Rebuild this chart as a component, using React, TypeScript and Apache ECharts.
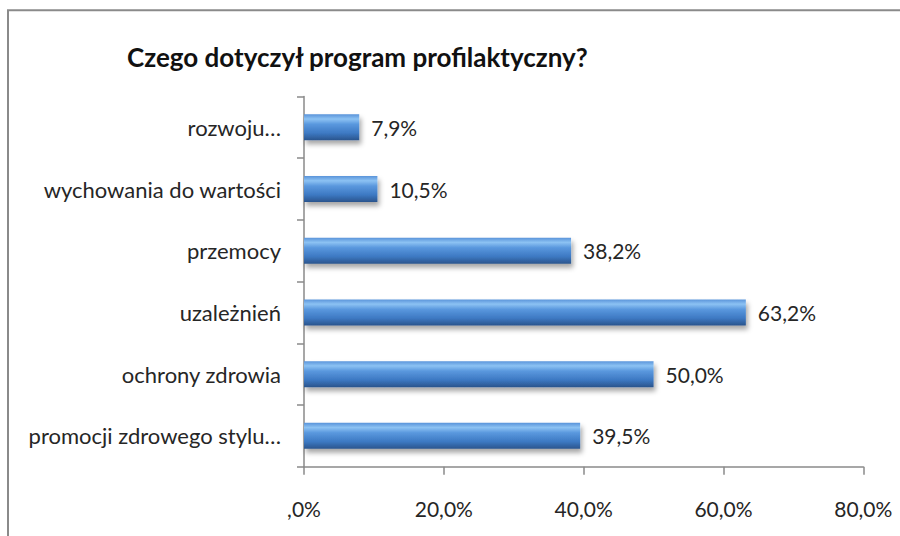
import React, { useEffect, useRef } from "react";
import * as echarts from "echarts";

const title = "Czego dotyczył program profilaktyczny?";
const categories = [
  "rozwoju…",
  "wychowania do wartości",
  "przemocy",
  "uzależnień",
  "ochrony zdrowia",
  "promocji zdrowego stylu…",
];
const values = [7.9, 10.5, 38.2, 63.2, 50.0, 39.5];
const xTicks = [0, 20, 40, 60, 80];

const fmt = (v: number) => (v === 0 ? ",0%" : v.toFixed(1).replace(".", ",") + "%");

export default function App() {
  const ref = useRef<HTMLDivElement>(null);
  useEffect(() => {
    document.body.style.margin = "0";
    const chart = echarts.init(ref.current!, null, { renderer: "svg" });
    const font = "Lato, 'Noto Sans', sans-serif";
    chart.setOption({
      animation: false,
      backgroundColor: "#ffffff",
      textStyle: { fontFamily: font },
      graphic: [
        {
          type: "rect",
          shape: { x: 8, y: 10.3, width: 920, height: 600 },
          style: { fill: "none", stroke: "#8a8a8a", lineWidth: 2 },
          silent: true,
        },
      ],
      title: {
        text: title,
        left: 122,
        top: 39,
        textStyle: { fontFamily: font, fontSize: 26, fontWeight: "bold", color: "#111" },
      },
      grid: { left: 304, right: 36.7, top: 96.5, bottom: 69.3, containLabel: false },
      xAxis: {
        type: "value",
        min: xTicks[0],
        max: xTicks[xTicks.length - 1],
        interval: 20,
        splitLine: { show: false },
        axisLine: { show: true, lineStyle: { color: "#8a8a8a", width: 1.5 } },
        axisTick: { show: true, length: 8, lineStyle: { color: "#8a8a8a", width: 1.5 } },
        axisLabel: {
          margin: 31,
          fontSize: 21,
          color: "#262626",
          fontFamily: font,
          formatter: (v: number) => fmt(v),
        },
      },
      yAxis: {
        type: "category",
        inverse: true,
        data: categories,
        axisLine: { show: true, lineStyle: { color: "#8a8a8a", width: 1.5 } },
        axisTick: { show: true, length: 7, lineStyle: { color: "#8a8a8a", width: 1.5 } },
        axisLabel: { margin: 23, fontSize: 22, color: "#262626", fontFamily: font },
      },
      series: [
        {
          type: "bar",
          data: values,
          barWidth: 26,
          itemStyle: {
            color: new echarts.graphic.LinearGradient(0, 0, 0, 1, [
              { offset: 0, color: "#5a94da" },
              { offset: 0.18, color: "#8cc2f3" },
              { offset: 0.38, color: "#5a98de" },
              { offset: 0.72, color: "#3d79c3" },
              { offset: 1, color: "#2a548c" },
            ]),
            shadowColor: "rgba(0,0,0,0.35)",
            shadowBlur: 5,
            shadowOffsetX: 2,
            shadowOffsetY: 4,
          },
          label: {
            show: true,
            position: "right",
            distance: 12,
            fontSize: 21,
            color: "#262626",
            fontFamily: font,
            formatter: (p: any) => fmt(p.value),
          },
        },
      ],
    });
    return () => chart.dispose();
  }, []);
  return <div ref={ref} style={{ width: 900, height: 536 }} />;
}
